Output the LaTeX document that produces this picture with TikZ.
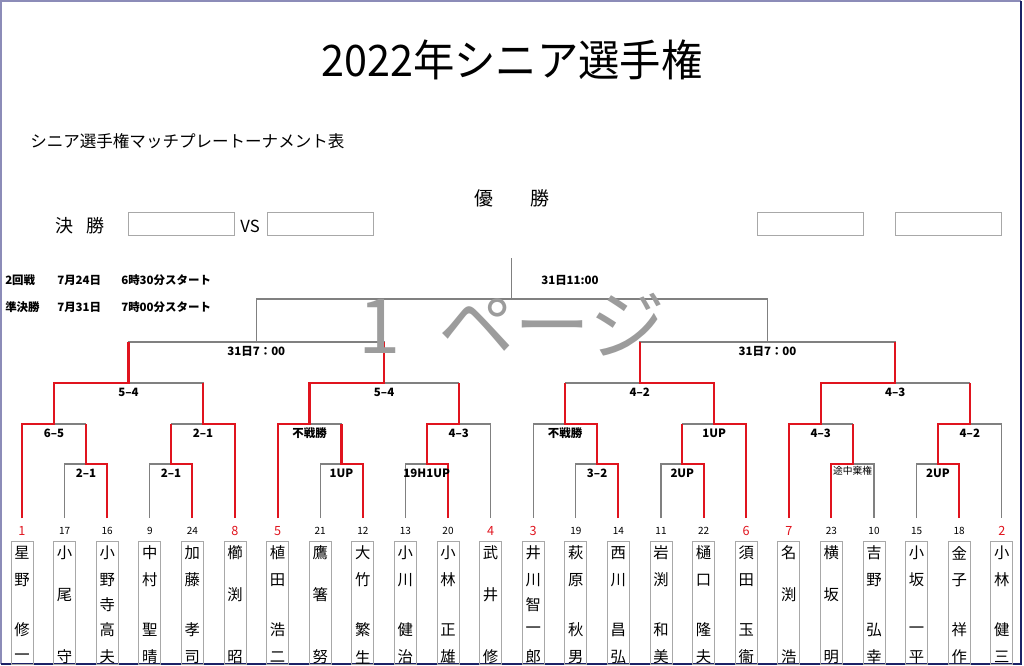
\documentclass[tikz,border=0pt]{standalone}
\usepackage{fontspec}
\setmainfont{Noto Sans CJK JP}
\definecolor{linegray}{HTML}{808080}
\definecolor{boxgray}{HTML}{A8A8A8}
\definecolor{winred}{HTML}{E0141E}
\definecolor{markgray}{HTML}{9C9C9C}
\definecolor{frameblue}{HTML}{8C8CB8}
\definecolor{framenavy}{HTML}{1C2266}
\tikzset{
  every picture/.style={line join=miter},
  bline/.style={draw=linegray, line width=0.8pt},
  win/.style={draw=winred, line width=1.6pt},
  scorefont/.style={font=\bfseries\fontsize{8.6}{9}\selectfont, inner sep=0pt},
  score/.style={scorefont, yshift=-6.75pt},
  note/.style={font=\fontsize{7.3}{8}\selectfont, inner sep=0pt, yshift=-5.25pt},
  seed/.style={font=\fontsize{9.5}{10}\selectfont, text=winred, inner sep=0pt},
  entry/.style={font=\fontsize{7.5}{8}\selectfont, inner sep=0pt},
  namebox/.style={draw=boxgray, line width=0.7pt, minimum width=16.5pt, minimum height=92.25pt, inner sep=0pt},
  namechar/.style={font=\fontsize{11.5}{12}\selectfont, inner sep=0pt},
  vsbox/.style={draw=boxgray, line width=0.7pt, minimum width=79.5pt, minimum height=17.5pt, inner sep=0pt},
  info/.style={font=\bfseries\fontsize{8.6}{9}\selectfont, anchor=west, inner sep=0pt},
}

\begin{document}
\begin{tikzpicture}[x=0.75pt,y=-0.75pt]
\useasboundingbox (0,0) rectangle (1024,665);
% frame
\draw[frameblue, line width=1.2pt] (0.8,664) -- (0.8,0.8) -- (1021,0.8);
\draw[framenavy, line width=1.5pt] (1021,0.8) -- (1021,663.8) -- (0.8,663.8);

% titles
\node[font=\fontsize{31}{32}\selectfont, inner sep=0pt, yscale=1.05] (title) at (512,60) {2022年シニア選手権};
\node[font=\fontsize{12.4}{13}\selectfont, anchor=west, inner sep=0pt] (subtitle) at (30,141) {シニア選手権マッチプレートーナメント表};
\node[font=\fontsize{14.2}{15}\selectfont, inner sep=0pt] (champion) at (512,198) {優　　勝};
\node[font=\fontsize{13.5}{14}\selectfont, inner sep=0pt] (final) at (80,226) {決\hspace{10.5pt}勝};
\node[vsbox] (fin1) at (181,224) {};
\node[font=\fontsize{12.5}{13}\selectfont, inner sep=0pt] (vs) at (250,226) {VS};
\node[vsbox] (fin2) at (320,224) {};
\node[vsbox] (res1) at (810,224) {};
\node[vsbox] (res2) at (948,224) {};

% schedule
\node[info] (r2a) at (5,280) {2回戦};
\node[info] (r2b) at (57,280) {7月24日};
\node[info] (r2c) at (121,280) {6時30分スタート};
\node[info] (sfa) at (5,307) {準決勝};
\node[info] (sfb) at (57,307) {7月31日};
\node[info] (sfc) at (121,307) {7時00分スタート};

% players
\foreach \i/\num/\chars in {
  0/1/{星/553,野/580,修/630,一/657},
  1/17/{小/553,尾/595,守/657},
  2/16/{小/553,野/580,寺/605,高/630,夫/657},
  3/9/{中/553,村/580,聖/630,晴/657},
  4/24/{加/553,藤/580,孝/630,司/657},
  5/8/{櫛/553,渕/595,昭/657},
  6/5/{植/553,田/580,浩/630,二/657},
  7/21/{鷹/553,箸/595,努/657},
  8/12/{大/553,竹/580,繁/630,生/657},
  9/13/{小/553,川/580,健/630,治/657},
  10/20/{小/553,林/580,正/630,雄/657},
  11/4/{武/553,井/595,修/657},
  12/3/{井/553,川/580,智/605,一/630,郎/657},
  13/19/{萩/553,原/580,秋/630,男/657},
  14/14/{西/553,川/580,昌/630,弘/657},
  15/11/{岩/553,渕/580,和/630,美/657},
  16/22/{樋/553,口/580,隆/630,夫/657},
  17/6/{須/553,田/580,玉/630,衞/657},
  18/7/{名/553,渕/595,浩/657},
  19/23/{横/553,坂/595,明/657},
  20/10/{吉/553,野/580,弘/630,幸/657},
  21/15/{小/553,坂/580,一/630,平/657},
  22/18/{金/553,子/580,祥/630,作/657},
  23/2/{小/553,林/580,健/630,三/657}}{
  \pgfmathsetmacro\lx{22+42.6*\i}
  \ifnum\num<9 \def\numstyle{seed}\else\def\numstyle{entry}\fi
  \coordinate (L\i) at (\lx,518);
  \node[\numstyle] (N\i) at (\lx,531) {\num};
  \node[namebox] (B\i) at (\lx,602.5) {};
  \foreach \c/\y in \chars {\node[namechar] (C\i-\y) at (\lx,\y) {\c};}
}

% match points
\foreach \n/\x/\y in {a1/85.9/464, b1/53.95/424, a2/171.1/464, b2/203.05/424, q1/128.5/383,
  a3/341.5/464, b3/309.55/424, a4/426.7/464, b4/458.65/424, q2/384.1/383, s1/256.3/342,
  a5/597.1/464, b5/565.15/424, a6/682.3/464, b6/714.25/424, q3/639.7/383,
  a7/852.7/464, b7/820.75/424, a8/937.9/464, b8/969.85/424, q4/895.3/383, s2/767.5/342,
  f/511.9/299, champ/511.9/258}
  \coordinate (\n) at (\x,\y);

% bracket
\foreach \l/\m/\r in {L1/a1/L2, L0/b1/a1, L3/a2/L4, a2/b2/L5, b1/q1/b2,
  L7/a3/L8, L6/b3/a3, L9/a4/L10, a4/b4/L11, b3/q2/b4, q1/s1/q2,
  L13/a5/L14, L12/b5/a5, L15/a6/L16, a6/b6/L17, b5/q3/b6,
  L19/a7/L20, L18/b7/a7, L21/a8/L22, a8/b8/L23, b7/q4/b8, q3/s2/q4, s1/f/s2}
  \draw[bline] (\l) |- (\m) -| (\r);
\draw[bline] (f) -- (champ);

% winners
\draw[win] (L2) |- (a1) -- (a1 |- b1);
\draw[win] (L0) |- (b1) |- (q1) -- (q1 |- s1);
\draw[win] (L4) |- (a2) -- (a2 |- b2);
\draw[win] (L5) |- (b2) -- (b2 |- q1);
\draw[win] (L8) |- (a3) -- (a3 |- b3);
\draw[win] (L6) |- (b3) |- (q2) -- (q2 |- s1);
\draw[win] (L10) |- (a4) |- (b4) -- (b4 |- q2);
\draw[win] (L14) |- (a5) |- (b5) -- (b5 |- q3);
\draw[win] (L16) |- (a6) -- (a6 |- b6);
\draw[win] (L17) |- (b6) |- (q3) -- (q3 |- s2);
\draw[win] (L19) |- (a7) -- (a7 |- b7);
\draw[win] (L18) |- (b7) |- (q4) -- (q4 |- s2);
\draw[win] (L22) |- (a8) |- (b8) -- (b8 |- q4);

% scores
\foreach \m/\t in {a1/2--1, b1/6--5, a2/2--1, b2/2--1, q1/5--4, a3/1UP, b3/不戦勝,
  a4/19H1UP, b4/4--3, q2/5--4, a5/3--2, b5/不戦勝, a6/2UP, b6/1UP, q3/4--2,
  b7/4--3, a8/2UP, b8/4--2, q4/4--3, s1/31日7：00, s2/31日7：00}
  \node[score] (t-\m) at (\m) {\t};
\node[note] (t-a7) at (a7) {途中棄権};
\node[scorefont] (t-f) at (570,280) {31日11:00};

% page mark
\node[font=\fontsize{57}{58}\selectfont, text=markgray, inner sep=0pt] (page) at (512,325) {1\hspace{0.5em}ページ};
\end{tikzpicture}
\end{document}
